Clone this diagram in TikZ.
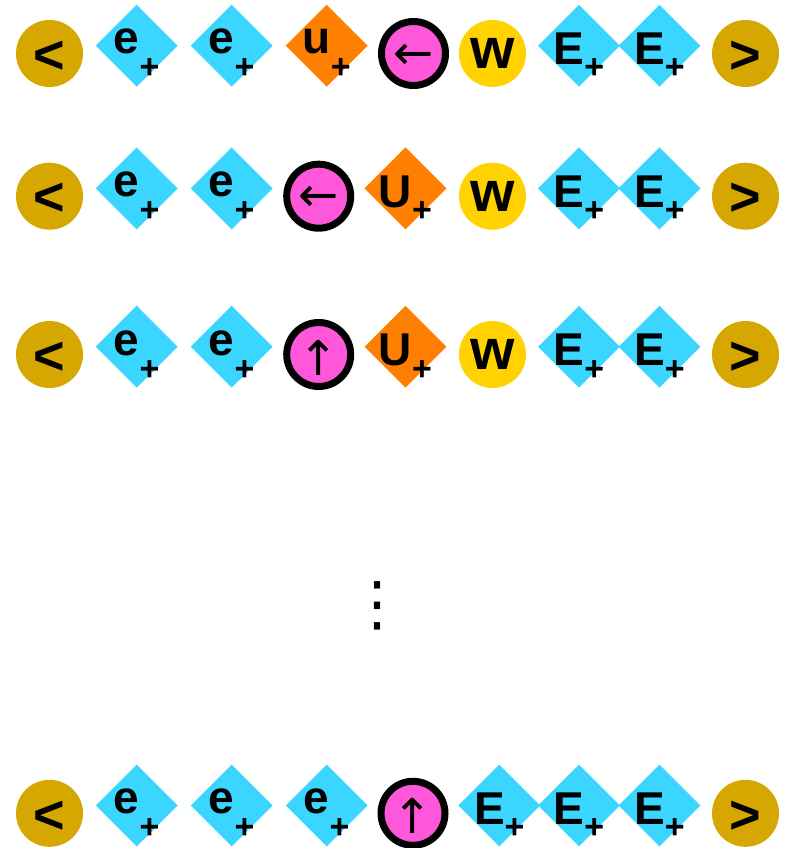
\documentclass[tikz,border=0pt]{standalone}
\usepackage{fontspec}
\setmainfont{Liberation Sans}
\newfontfamily\symfont{DejaVu Sans}
\usepackage{tikz}
\usetikzlibrary{shapes.geometric}
\definecolor{capgold}{RGB}{214,167,0}
\definecolor{leptcyan}{RGB}{59,214,255}
\definecolor{quarkorange}{RGB}{255,128,0}
\definecolor{wyellow}{RGB}{255,210,0}
\definecolor{headpink}{RGB}{255,87,217}
\newcommand{\lsub}{\raisebox{-25pt}{\fontsize{34}{34}\selectfont +}}
\newcommand{\usub}{\raisebox{-14.5pt}{\fontsize{34}{34}\selectfont +}}

\begin{document}
\begin{tikzpicture}[x=1pt,y=-1pt,
    lbl/.style={anchor=base,inner sep=0pt,font=\bfseries\fontsize{46}{46}\selectfont},
    capnode/.style={circle,fill=capgold,minimum size=67pt,inner sep=0pt,
      label={[font=\bfseries\fontsize{54}{54}\selectfont,yshift=-3.5pt]center:#1}},
    wnode/.style={circle,fill=wyellow,minimum size=67pt,inner sep=0pt,
      label={[font=\bfseries\fontsize{57}{57}\selectfont]center:w}},
    lep/.style={diamond,fill=leptcyan,minimum width=82pt,minimum height=82pt,inner sep=0pt},
    qrk/.style={diamond,fill=quarkorange,minimum width=82pt,minimum height=82pt,inner sep=0pt},
    head/.style={circle,draw=black,line width=7pt,fill=headpink,minimum size=64pt,inner sep=0pt,
      label={[font=\symfont\fontsize{48}{48}\selectfont,yshift=-3pt]center:#1}},
  ]
\useasboundingbox (0,0) rectangle (786,848);

% row 1
\node[capnode={<}] (lcap1) at (49.5,53.5) {};
\node[lep] (e1a) at (136.7,45.7) {};
\node[lep] (e1b) at (231.7,45.7) {};
\node[qrk] (u1) at (326.7,45.7) {};
\node[head={←}] (head1) at (413.5,53.5) {};
\node[wnode] (w1) at (492.5,53.5) {};
\node[lep] (E1a) at (579,45.7) {};
\node[lep] (E1b) at (659.5,45.7) {};
\node[capnode={>}] (rcap1) at (745.5,53.5) {};
\node[lbl] (e1at) at (136.7,54) {e\lsub};
\node[lbl] (e1bt) at (231.7,54) {e\lsub};
\node[lbl] (u1t) at (326.7,54) {u\lsub};
\node[lbl] (E1at) at (579,64.5) {E\usub};
\node[lbl] (E1bt) at (659.5,64.5) {E\usub};

% row 2
\node[capnode={<}] (lcap2) at (49.5,196.2) {};
\node[lep] (e2a) at (136.7,188.4) {};
\node[lep] (e2b) at (231.7,188.4) {};
\node[head={←}] (head2) at (318.7,196.2) {};
\node[qrk] (U2) at (405.5,188.4) {};
\node[wnode] (w2) at (492.5,196.2) {};
\node[lep] (E2a) at (579,188.4) {};
\node[lep] (E2b) at (659.5,188.4) {};
\node[capnode={>}] (rcap2) at (745.5,196.2) {};
\node[lbl] (e2at) at (136.7,196.7) {e\lsub};
\node[lbl] (e2bt) at (231.7,196.7) {e\lsub};
\node[lbl] (U2t) at (405.5,207.2) {U\usub};
\node[lbl] (E2at) at (579,207.2) {E\usub};
\node[lbl] (E2bt) at (659.5,207.2) {E\usub};

% row 3
\node[capnode={<}] (lcap3) at (49.5,354.5) {};
\node[lep] (e3a) at (136.7,346.7) {};
\node[lep] (e3b) at (231.7,346.7) {};
\node[head={↑}] (head3) at (318.7,354.5) {};
\node[qrk] (U3) at (405.5,346.7) {};
\node[wnode] (w3) at (492.5,354.5) {};
\node[lep] (E3a) at (579,346.7) {};
\node[lep] (E3b) at (659.5,346.7) {};
\node[capnode={>}] (rcap3) at (745.5,354.5) {};
\node[lbl] (e3at) at (136.7,355) {e\lsub};
\node[lbl] (e3bt) at (231.7,355) {e\lsub};
\node[lbl] (U3t) at (405.5,365.5) {U\usub};
\node[lbl] (E3at) at (579,365.5) {E\usub};
\node[lbl] (E3bt) at (659.5,365.5) {E\usub};

% gap
\node[font=\symfont\fontsize{60}{60}\selectfont] (dots) at (377,606) {⋮};

% last row
\node[capnode={<}] (lcap4) at (49.5,813.3) {};
\node[lep] (e4a) at (136.7,805.5) {};
\node[lep] (e4b) at (231.7,805.5) {};
\node[lep] (e4c) at (326.7,805.5) {};
\node[head={↑}] (head4) at (413,813.3) {};
\node[lep] (E4a) at (499.3,805.5) {};
\node[lep] (E4b) at (579,805.5) {};
\node[lep] (E4c) at (659.5,805.5) {};
\node[capnode={>}] (rcap4) at (745.5,813.3) {};
\node[lbl] (e4at) at (136.7,813.8) {e\lsub};
\node[lbl] (e4bt) at (231.7,813.8) {e\lsub};
\node[lbl] (e4ct) at (326.7,813.8) {e\lsub};
\node[lbl] (E4at) at (499.3,824.3) {E\usub};
\node[lbl] (E4bt) at (579,824.3) {E\usub};
\node[lbl] (E4ct) at (659.5,824.3) {E\usub};
\end{tikzpicture}
\end{document}
